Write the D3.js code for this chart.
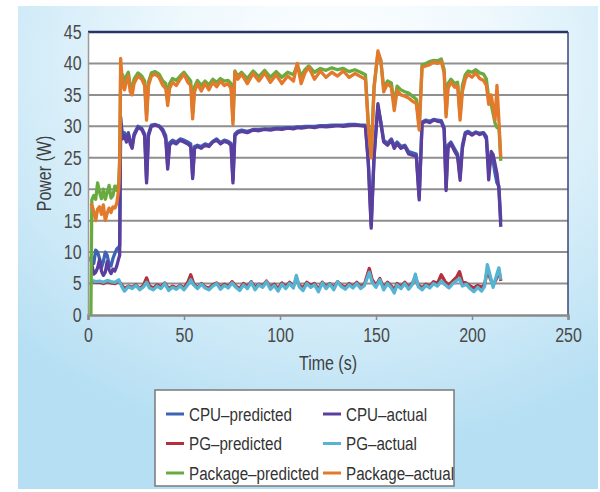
<!DOCTYPE html>
<html>
<head>
<meta charset="utf-8">
<script src="https://cdn.jsdelivr.net/npm/d3@7"></script>
<style>
  body { margin: 0; background: #fff; }
  svg { display: block; }
</style>
</head>
<body>
<div id="power_chart"></div>
<script>
// time stamps (s) for the CPU and package series
var timeMain = [1.5, 2, 3, 4, 5, 6, 7, 8, 9, 10, 11, 12, 13, 14, 15, 16, 16.5, 17, 18, 19, 20, 21, 22, 23, 24, 26, 28, 29.5, 30.5, 31.5,
  33, 35, 37, 39, 40.5, 41.5, 42.5, 44, 46, 48, 50, 52, 53.5, 54.5, 55.5, 57, 59, 61, 63, 65, 67, 69, 71, 73, 74.5, 75.5, 76.5,
  78, 80, 83, 86, 89, 92, 95, 98, 101, 104, 107, 109, 111, 113, 115, 118, 121, 124, 127, 130, 133, 136, 139, 142, 144.5,
  146, 147.5, 149, 151, 152.5, 154, 156, 158, 159.5, 161, 163, 165, 167, 169, 171, 172.5, 174, 176, 178, 180, 182, 184,
  185.5, 186.5, 187.5, 189, 191, 192.5, 193.8, 195, 196.5, 198, 200, 202, 204, 206, 207.5, 208.7, 210, 211, 212, 213, 214, 215];

var cpuActual = [9.3, 8.0, 6.5, 6.8, 7.5, 8.8, 7.0, 6.3, 6.8, 8.5, 7.2, 6.6, 7.3, 7.0, 7.8, 9.0, 9.5, 31.5, 28.0, 28.5, 27.5, 28.8, 27.2, 26.5, 28.5, 29.8, 29.5, 28.5, 21.0, 28.5,
  30.0, 30.2, 30.0, 29.2, 28.0, 23.2, 27.0, 27.5, 27.2, 27.8, 27.5, 27.2, 26.8, 21.7, 26.5, 26.8, 26.5, 27.0, 26.8, 27.5, 27.8, 27.2, 27.6, 27.4, 27.0, 21.0, 28.5,
  29.0, 29.2, 29.0, 29.4, 29.3, 29.5, 29.4, 29.6, 29.5, 29.7, 29.6, 29.8, 29.7, 29.8, 29.9, 29.8, 30.0, 29.9, 30.0, 30.1, 30.0, 30.1, 30.2, 30.1, 30.0,
  24.0, 13.8, 25.0, 33.6, 30.5, 27.5, 27.0, 27.8, 26.5, 27.2, 26.5, 26.8, 25.6, 25.4, 25.2, 18.3, 30.5, 30.8, 30.6, 31.0, 30.8, 30.7,
  29.5, 19.8, 26.5, 27.3, 26.0, 25.2, 21.4, 26.5, 28.8, 29.0, 28.6, 29.0, 28.7, 28.9, 28.0, 21.5, 26.0, 25.5, 24.0, 22.5, 20.0, 14.0];

var cpuPredicted = [8.5, 9.0, 8.2, 10.3, 10.0, 9.0, 7.5, 8.5, 10.0, 9.5, 8.0, 7.8, 9.0, 9.8, 10.5, 10.8, 11.0, 30.5, 28.5, 29.0, 28.0, 29.0, 27.6, 27.0, 28.8, 30.0, 29.7, 28.8, 21.5, 28.8,
  30.2, 30.3, 30.1, 29.5, 28.5, 23.8, 27.4, 27.8, 27.5, 28.0, 27.8, 27.5, 27.2, 22.2, 26.8, 27.0, 26.8, 27.2, 27.0, 27.6, 28.0, 27.4, 27.8, 27.6, 27.3, 21.5, 28.8,
  29.2, 29.4, 29.2, 29.5, 29.5, 29.6, 29.6, 29.7, 29.7, 29.8, 29.8, 29.9, 29.9, 30.0, 30.0, 30.0, 30.1, 30.1, 30.2, 30.2, 30.2, 30.3, 30.3, 30.2, 30.2,
  24.5, 14.3, 25.5, 33.2, 30.8, 27.8, 27.3, 28.0, 26.9, 27.5, 26.8, 27.0, 26.0, 25.8, 25.6, 18.8, 30.7, 31.0, 30.8, 31.1, 31.0, 30.9,
  29.8, 20.3, 27.0, 27.5, 26.4, 25.6, 22.0, 27.0, 29.0, 29.2, 28.8, 29.1, 28.9, 29.0, 28.4, 23.0, 25.5, 24.5, 22.5, 21.0, 20.5, 15.0];

var packageActual = [17.7, 17.5, 16.5, 15.0, 16.8, 17.2, 16.0, 17.5, 15.0, 16.2, 17.0, 16.3, 17.2, 17.0, 17.8, 20.0, 24.0, 40.8, 36.5, 35.8, 37.2, 38.0, 35.5, 35.0, 36.8, 38.0, 37.5, 36.5, 31.0, 36.5,
  38.0, 38.3, 37.8, 36.5, 36.0, 33.3, 36.0, 37.0, 36.5, 37.5, 38.3, 37.0, 36.5, 31.2, 35.5, 36.8, 35.6, 36.8, 35.8, 37.0, 36.3, 37.2, 36.5, 36.8, 36.0, 30.3, 38.6,
  37.5, 38.3, 36.8, 38.4, 37.2, 38.5, 37.0, 38.2, 36.8, 38.0, 37.2, 40.0, 36.8, 38.5, 39.4, 37.5, 38.8, 37.8, 38.6, 38.0, 38.8, 37.8, 38.4, 37.9, 37.5,
  30.0, 25.0, 36.0, 42.0, 40.5, 35.5, 36.8, 36.2, 32.5, 35.7, 35.0, 34.8, 34.5, 34.0, 33.6, 29.4, 39.4, 39.6, 39.8, 40.2, 40.0, 40.3,
  38.5, 31.5, 36.0, 37.0, 36.2, 36.5, 31.0, 35.5, 37.5, 38.3, 37.8, 38.5, 37.6, 37.3, 36.5, 33.5, 35.0, 33.0, 31.0, 36.5, 31.0, 25.0];

var packagePredicted = [0, 18.3, 19.0, 18.4, 21.0, 19.5, 18.5, 20.0, 18.4, 19.5, 20.6, 18.6, 19.0, 20.5, 19.8, 21.0, 25.0, 37.5, 38.2, 37.0, 38.0, 38.6, 36.5, 36.0, 37.5, 38.5, 38.0, 37.2, 31.8, 37.0,
  38.5, 38.7, 38.3, 37.2, 36.8, 34.0, 36.8, 37.6, 37.3, 38.0, 38.6, 37.8, 37.2, 32.0, 36.3, 37.3, 36.5, 37.2, 36.6, 37.5, 37.0, 37.6, 37.2, 37.3, 36.8, 31.0, 38.8,
  38.0, 38.6, 37.6, 38.8, 37.9, 38.9, 37.8, 38.7, 37.8, 38.6, 38.2, 39.8, 38.0, 39.0, 39.6, 38.6, 39.2, 38.9, 39.3, 39.0, 39.2, 38.7, 39.0, 38.6, 38.2,
  30.5, 25.5, 36.5, 41.6, 40.5, 36.2, 37.2, 36.9, 33.5, 36.4, 35.8, 35.5, 35.3, 34.8, 34.3, 30.0, 39.8, 40.0, 40.3, 40.5, 40.4, 40.7,
  39.0, 32.0, 36.8, 37.5, 36.8, 37.0, 31.8, 36.5, 38.2, 38.8, 38.6, 39.0, 38.5, 38.3, 37.5, 34.5, 33.5, 32.0, 30.5, 29.8, 30.0, 24.5];

// time stamps (s) for the power-gated (PG) series
var timePG = [2, 4, 6, 8, 10, 12, 14, 16, 17.5, 19, 21, 23, 25, 27, 29, 30.5, 32, 34, 36, 38, 40, 42, 44, 46, 48, 50, 52, 53.5, 55, 57,
  59, 61, 63, 65, 67, 69, 71, 73, 75, 77, 79, 81, 83, 85, 87, 89, 91, 93, 95, 97, 99, 101, 103, 105, 107, 108.5, 110, 112, 114, 116,
  118, 120, 122, 124, 126, 128, 130, 132, 134, 136, 138, 140, 142, 144, 146.5, 148, 150, 152, 154, 156, 158, 159.5, 161, 163, 165, 167, 169, 170.5, 172, 174,
  176, 178, 180, 182, 184, 186, 188, 190, 192, 193.5, 195, 197, 199, 201, 203, 205, 206.5, 208, 209.5, 211, 212.5, 214, 215];

var pgActual = [5.5, 5.3, 5.4, 5.2, 5.5, 5.3, 5.2, 5.6, 4.6, 3.8, 4.5, 4.2, 4.7, 4.0, 4.5, 5.2, 4.3, 4.0, 4.6, 4.2, 5.0, 3.9, 4.4, 4.1, 4.6, 4.0, 4.8, 5.6, 4.8, 4.2,
  4.9, 4.3, 4.0, 4.6, 5.0, 4.1, 4.7, 4.3, 5.1, 4.4, 3.9, 4.8, 4.2, 5.2, 4.0, 4.8, 4.4, 5.3, 4.1, 4.7, 3.8, 4.9, 4.2, 5.0, 4.3, 6.3, 4.5, 3.9, 5.0, 4.4,
  4.8, 3.7, 5.1, 4.2, 4.9, 4.0, 5.3, 4.5, 4.1, 4.8, 4.3, 5.0, 4.2, 4.7, 6.8, 5.2, 4.4, 5.6, 4.0, 5.0, 4.3, 3.5, 4.8, 4.2, 5.0, 4.1, 4.9, 6.5, 4.5, 4.0,
  4.7, 4.3, 5.0, 4.6, 5.4, 4.8, 4.3, 5.0, 5.5, 5.8, 4.6, 4.9, 4.2, 3.7, 4.4, 3.8, 4.5, 8.0, 6.2, 4.4, 6.0, 7.5, 5.6];

var pgPredicted = [5.3, 5.2, 5.2, 5.0, 5.3, 5.1, 5.0, 5.4, 4.8, 4.2, 4.6, 4.4, 4.8, 4.2, 4.8, 5.9, 4.6, 4.3, 4.8, 4.5, 5.1, 4.2, 4.6, 4.3, 4.7, 4.3, 5.2, 6.4, 5.0, 4.4,
  5.0, 4.5, 4.3, 4.8, 5.1, 4.4, 4.9, 4.5, 5.3, 4.6, 4.2, 5.0, 4.5, 5.3, 4.4, 4.9, 4.6, 5.4, 4.4, 4.9, 4.2, 5.1, 4.5, 5.2, 4.6, 5.8, 4.8, 4.3, 5.2, 4.7,
  5.0, 4.1, 5.2, 4.5, 5.0, 4.4, 5.3, 4.7, 4.4, 5.0, 4.5, 5.2, 4.5, 4.9, 7.4, 5.6, 4.7, 5.8, 4.3, 5.2, 4.6, 4.0, 5.0, 4.5, 5.2, 4.4, 5.1, 6.0, 4.8, 4.3,
  4.9, 4.6, 5.3, 5.0, 6.4, 5.3, 4.8, 5.4, 6.0, 6.9, 5.2, 5.1, 4.6, 4.3, 4.7, 4.4, 4.8, 7.0, 5.8, 4.8, 5.6, 7.2, 5.4];

// axis ticks and legend
var xTicks = [0, 50, 100, 150, 200, 250];
var yTicks = [0, 5, 10, 15, 20, 25, 30, 35, 40, 45];
var seriesNames = ["CPU\u2013predicted", "CPU\u2013actual", "PG\u2013predicted", "PG\u2013actual", "Package\u2013predicted", "Package\u2013actual"];
var seriesColors = ["#3d63b5", "#5a3f9f", "#b3303c", "#55b4d2", "#6aab3f", "#e3792b"];

var width = 600, height = 492;
var margin = {top: 32, right: 32, bottom: 177, left: 88};
var plotW = width - margin.left - margin.right;
var plotH = height - margin.top - margin.bottom;
var squeeze = "scale(0.8,1)"; // the original type is a condensed face

var svg = d3.select("#power_chart")
  .append("svg")
    .attr("width", width)
    .attr("height", height)
    .style("font-family", "'Liberation Sans', Arial, sans-serif");

// light blue panel behind everything
var defs = svg.append("defs");
var grad = defs.append("radialGradient")
    .attr("id", "panelGrad")
    .attr("cx", "0.55").attr("cy", "0.12").attr("r", "0.8");
grad.append("stop").attr("offset", "0").attr("stop-color", "#ffffff");
grad.append("stop").attr("offset", "0.35").attr("stop-color", "#eef8fd");
grad.append("stop").attr("offset", "1").attr("stop-color", "#b6dff3");

svg.append("rect")
  .attr("x", 18).attr("y", 6)
  .attr("width", 580).attr("height", 483)
  .attr("fill", "url(#panelGrad)");

var g = svg.append("g")
  .attr("transform", "translate(" + margin.left + "," + margin.top + ")");

var x = d3.scaleLinear().domain([0, 250]).range([0, plotW]);
var y = d3.scaleLinear().domain([0, 45]).range([plotH, 0]);

g.append("rect")
  .attr("width", plotW).attr("height", plotH)
  .attr("fill", "#ffffff");

// horizontal grid lines
g.append("g")
  .selectAll("line")
  .data(yTicks.filter(function(d) { return d > 0 && d < 45; }))
  .enter().append("line")
    .attr("x1", 0).attr("x2", plotW)
    .attr("y1", function(d) { return y(d); })
    .attr("y2", function(d) { return y(d); })
    .attr("stroke", "#8f8f8f")
    .attr("stroke-width", 2);

// frame: dark top and right, grey axes
g.append("line").attr("x1", 0).attr("x2", plotW).attr("y1", 0).attr("y2", 0)
  .attr("stroke", "#27346a").attr("stroke-width", 2.5);
g.append("line").attr("x1", plotW).attr("x2", plotW).attr("y1", 0).attr("y2", plotH)
  .attr("stroke", "#3a4478").attr("stroke-width", 1.5);

var xAxis = g.append("g")
  .attr("transform", "translate(0," + plotH + ")")
  .call(d3.axisBottom(x).tickValues(xTicks).tickSize(5).tickPadding(8));
var yAxis = g.append("g")
  .call(d3.axisLeft(y).tickValues(yTicks).tickSize(0).tickPadding(8));

xAxis.select(".domain").attr("stroke", "#8a8a8a").attr("stroke-width", 2.5);
yAxis.select(".domain").attr("stroke", "#9a9a9a").attr("stroke-width", 1.5);
xAxis.selectAll(".tick line").attr("stroke", "#8a8a8a").attr("stroke-width", 1.5);
g.selectAll(".tick text")
  .attr("fill", "#4a4a4a")
  .attr("transform", squeeze)
  .style("font-size", "20px")
  .style("font-family", "'Liberation Sans', Arial, sans-serif");

// axis titles
svg.append("text")
  .attr("transform", "translate(" + (margin.left + x(125)) + ",370) " + squeeze)
  .attr("text-anchor", "middle")
  .attr("fill", "#3f3f3f")
  .style("font-size", "20px")
  .text("Time (s)");
svg.append("text")
  .attr("transform", "translate(51," + (margin.top + y(22.5)) + ") rotate(-90) " + squeeze)
  .attr("text-anchor", "middle")
  .attr("fill", "#3f3f3f")
  .style("font-size", "20px")
  .text("Power (W)");

// the six power curves
var series = [
  {time: timeMain, vals: cpuPredicted},
  {time: timeMain, vals: cpuActual},
  {time: timePG, vals: pgPredicted},
  {time: timePG, vals: pgActual},
  {time: timeMain, vals: packagePredicted},
  {time: timeMain, vals: packageActual}
];

var line = d3.line()
  .x(function(d) { return x(d[0]); })
  .y(function(d) { return y(d[1]); });

series.forEach(function(s, i) {
  g.append("path")
    .datum(d3.zip(s.time, s.vals))
    .attr("fill", "none")
    .attr("stroke", seriesColors[i])
    .attr("stroke-width", 3.3)
    .attr("stroke-linejoin", "round")
    .attr("d", line);
});

// legend box
var legend = svg.append("g").attr("transform", "translate(155,390)");
legend.append("rect")
  .attr("width", 299).attr("height", 96)
  .attr("fill", "#ffffff")
  .attr("stroke", "#7a7a7a")
  .attr("stroke-width", 1.5);

var items = legend.selectAll("g.item")
  .data(seriesNames)
  .enter().append("g")
    .attr("class", "item")
    .attr("transform", function(d, i) {
      return "translate(" + (i % 2 === 0 ? 11 : 168) + "," + (24 + Math.floor(i / 2) * 29.5) + ")";
    });
items.append("line")
  .attr("x1", 0).attr("x2", 18)
  .attr("stroke", function(d, i) { return seriesColors[i]; })
  .attr("stroke-width", 3);
items.append("text")
  .attr("transform", "translate(23,0) " + squeeze)
  .attr("dy", "0.35em")
  .attr("fill", "#333")
  .style("font-size", "19px")
  .text(function(d) { return d; });
</script>
</body>
</html>
